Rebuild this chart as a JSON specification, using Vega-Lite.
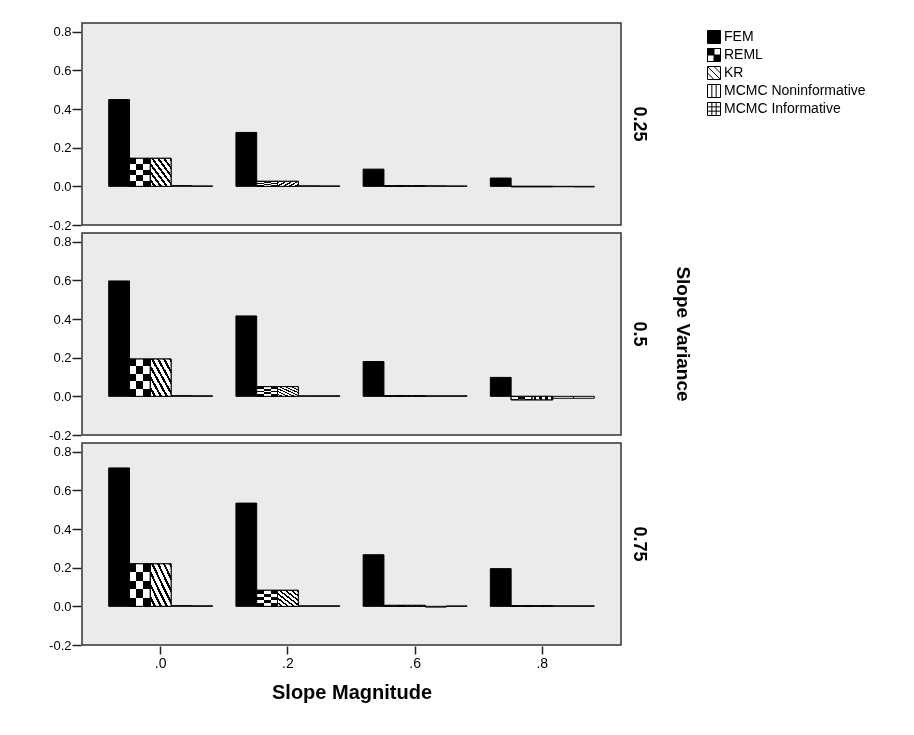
{
  "$schema": "https://vega.github.io/schema/vega-lite/v6.json",
  "background": "white",
  "padding": {"left": 48, "top": 22, "right": 5, "bottom": 5},
  "autosize": {"type": "pad"},
  "config": {
    "font": "Liberation Sans",
    "view": {"fill": "#ebebeb", "stroke": "#333333", "strokeWidth": 1.5}
  },
  "data": {
    "values": [
      {"variance": "0.25", "magnitude": ".0", "method": "FEM", "value": 0.449},
      {"variance": "0.25", "magnitude": ".0", "method": "REML", "value": 0.145},
      {"variance": "0.25", "magnitude": ".0", "method": "KR", "value": 0.145},
      {"variance": "0.25", "magnitude": ".0", "method": "MCMC Noninformative", "value": 0.004},
      {"variance": "0.25", "magnitude": ".0", "method": "MCMC Informative", "value": 0.002},
      {"variance": "0.25", "magnitude": ".2", "method": "FEM", "value": 0.279},
      {"variance": "0.25", "magnitude": ".2", "method": "REML", "value": 0.026},
      {"variance": "0.25", "magnitude": ".2", "method": "KR", "value": 0.026},
      {"variance": "0.25", "magnitude": ".2", "method": "MCMC Noninformative", "value": 0.003},
      {"variance": "0.25", "magnitude": ".2", "method": "MCMC Informative", "value": 0.002},
      {"variance": "0.25", "magnitude": ".6", "method": "FEM", "value": 0.089},
      {"variance": "0.25", "magnitude": ".6", "method": "REML", "value": 0.003},
      {"variance": "0.25", "magnitude": ".6", "method": "KR", "value": 0.003},
      {"variance": "0.25", "magnitude": ".6", "method": "MCMC Noninformative", "value": 0.003},
      {"variance": "0.25", "magnitude": ".6", "method": "MCMC Informative", "value": 0.002},
      {"variance": "0.25", "magnitude": ".8", "method": "FEM", "value": 0.043},
      {"variance": "0.25", "magnitude": ".8", "method": "REML", "value": -0.002},
      {"variance": "0.25", "magnitude": ".8", "method": "KR", "value": -0.002},
      {"variance": "0.25", "magnitude": ".8", "method": "MCMC Noninformative", "value": -0.002},
      {"variance": "0.25", "magnitude": ".8", "method": "MCMC Informative", "value": -0.003},
      {"variance": "0.5", "magnitude": ".0", "method": "FEM", "value": 0.597},
      {"variance": "0.5", "magnitude": ".0", "method": "REML", "value": 0.193},
      {"variance": "0.5", "magnitude": ".0", "method": "KR", "value": 0.193},
      {"variance": "0.5", "magnitude": ".0", "method": "MCMC Noninformative", "value": 0.004},
      {"variance": "0.5", "magnitude": ".0", "method": "MCMC Informative", "value": 0.003},
      {"variance": "0.5", "magnitude": ".2", "method": "FEM", "value": 0.416},
      {"variance": "0.5", "magnitude": ".2", "method": "REML", "value": 0.05},
      {"variance": "0.5", "magnitude": ".2", "method": "KR", "value": 0.05},
      {"variance": "0.5", "magnitude": ".2", "method": "MCMC Noninformative", "value": 0.003},
      {"variance": "0.5", "magnitude": ".2", "method": "MCMC Informative", "value": 0.003},
      {"variance": "0.5", "magnitude": ".6", "method": "FEM", "value": 0.18},
      {"variance": "0.5", "magnitude": ".6", "method": "REML", "value": 0.003},
      {"variance": "0.5", "magnitude": ".6", "method": "KR", "value": 0.003},
      {"variance": "0.5", "magnitude": ".6", "method": "MCMC Noninformative", "value": 0.003},
      {"variance": "0.5", "magnitude": ".6", "method": "MCMC Informative", "value": 0.003},
      {"variance": "0.5", "magnitude": ".8", "method": "FEM", "value": 0.098},
      {"variance": "0.5", "magnitude": ".8", "method": "REML", "value": -0.018},
      {"variance": "0.5", "magnitude": ".8", "method": "KR", "value": -0.018},
      {"variance": "0.5", "magnitude": ".8", "method": "MCMC Noninformative", "value": -0.01},
      {"variance": "0.5", "magnitude": ".8", "method": "MCMC Informative", "value": -0.01},
      {"variance": "0.75", "magnitude": ".0", "method": "FEM", "value": 0.716},
      {"variance": "0.75", "magnitude": ".0", "method": "REML", "value": 0.22},
      {"variance": "0.75", "magnitude": ".0", "method": "KR", "value": 0.22},
      {"variance": "0.75", "magnitude": ".0", "method": "MCMC Noninformative", "value": 0.004},
      {"variance": "0.75", "magnitude": ".0", "method": "MCMC Informative", "value": 0.003},
      {"variance": "0.75", "magnitude": ".2", "method": "FEM", "value": 0.534},
      {"variance": "0.75", "magnitude": ".2", "method": "REML", "value": 0.083},
      {"variance": "0.75", "magnitude": ".2", "method": "KR", "value": 0.083},
      {"variance": "0.75", "magnitude": ".2", "method": "MCMC Noninformative", "value": 0.003},
      {"variance": "0.75", "magnitude": ".2", "method": "MCMC Informative", "value": 0.003},
      {"variance": "0.75", "magnitude": ".6", "method": "FEM", "value": 0.267},
      {"variance": "0.75", "magnitude": ".6", "method": "REML", "value": 0.005},
      {"variance": "0.75", "magnitude": ".6", "method": "KR", "value": 0.005},
      {"variance": "0.75", "magnitude": ".6", "method": "MCMC Noninformative", "value": -0.004},
      {"variance": "0.75", "magnitude": ".6", "method": "MCMC Informative", "value": 0.002},
      {"variance": "0.75", "magnitude": ".8", "method": "FEM", "value": 0.195},
      {"variance": "0.75", "magnitude": ".8", "method": "REML", "value": 0.003},
      {"variance": "0.75", "magnitude": ".8", "method": "KR", "value": 0.003},
      {"variance": "0.75", "magnitude": ".8", "method": "MCMC Noninformative", "value": 0.003},
      {"variance": "0.75", "magnitude": ".8", "method": "MCMC Informative", "value": 0.003}
    ]
  },
  "spacing": 6,
  "facet": {
    "row": {
      "field": "variance",
      "type": "ordinal",
      "sort": ["0.25", "0.5", "0.75"],
      "title": "Slope Variance",
      "header": {
        "labelOrient": "right",
        "labelAngle": 90,
        "labelFontSize": 18,
        "labelFontWeight": "bold",
        "labelColor": "black",
        "labelPadding": 8,
        "titleOrient": "right",
        "titleAngle": 90,
        "titleFontSize": 19,
        "titleFontWeight": "bold",
        "titleColor": "black",
        "titlePadding": 15
      }
    }
  },
  "spec": {
    "width": 539,
    "height": 202,
    "encoding": {
      "x": {
        "field": "magnitude",
        "type": "nominal",
        "sort": [".0", ".2", ".6", ".8"],
        "scale": {"paddingInner": 0.183, "paddingOuter": 0.21},
        "axis": {
          "title": "Slope Magnitude",
          "labelAngle": 0,
          "domain": false,
          "tickSize": 8,
          "tickColor": "#222222",
          "tickWidth": 1.5,
          "labelFontSize": 14,
          "labelColor": "black",
          "labelPadding": 2,
          "titleFontSize": 20,
          "titleFontWeight": "bold",
          "titleColor": "black",
          "titlePadding": 12
        }
      },
      "xOffset": {
        "field": "method",
        "type": "nominal",
        "scale": {"domain": ["FEM", "REML", "KR", "MCMC Noninformative", "MCMC Informative"], "paddingInner": 0, "paddingOuter": 0}
      },
      "y": {
        "field": "value",
        "type": "quantitative",
        "scale": {"domain": [-0.2, 0.845], "nice": false, "zero": false},
        "axis": {
          "title": null,
          "values": [-0.2, 0, 0.2, 0.4, 0.6, 0.8],
          "labelExpr": "datum.value < 0 ? '-' + format(-datum.value, '.1f') : format(datum.value, '.1f')",
          "grid": false,
          "domain": false,
          "tickSize": 9,
          "tickColor": "#222222",
          "tickWidth": 1.5,
          "labelFontSize": 13,
          "labelColor": "black",
          "labelPadding": 1
        }
      }
    },
    "layer": [
      {
        "mark": {"type": "bar", "stroke": "black", "strokeWidth": 1},
        "encoding": {
          "fill": {
            "field": "method",
            "type": "nominal",
            "scale": {"domain": ["FEM", "REML", "KR", "MCMC Noninformative", "MCMC Informative"], "range": ["black", "black", "white", "white", "white"]},
            "legend": {
              "title": null,
              "orient": "right",
              "offset": 8,
              "padding": 7,
              "labelFontSize": 14,
              "labelColor": "black",
              "labelOffset": 3,
              "symbolSize": 169,
              "rowPadding": 0,
              "symbolStrokeWidth": 1,
              "symbolStrokeColor": "black",
              "encode": {
                "symbols": {
                  "update": {
                    "shape": [
                      {"test": "datum.value === 'REML'", "value": "M-1,-1H1V1H-1Z M0,-1V0H1V-1Z M-1,0V1H0V0Z"},
                      {"test": "datum.value === 'KR'", "value": "M-1,-1H1V1H-1Z M-1,-1L1,1 M-1,0L0,1 M0,-1L1,0"},
                      {"test": "datum.value === 'MCMC Noninformative'", "value": "M-1,-1H1V1H-1Z M-0.33,-1V1 M0.33,-1V1"},
                      {"test": "datum.value === 'MCMC Informative'", "value": "M-1,-1H1V1H-1Z M-0.33,-1V1 M0.33,-1V1 M-1,-0.33H1 M-1,0.33H1"},
                      {"value": "M-1,-1H1V1H-1Z"}
                    ],
                    "stroke": {"value": "black"},
                    "strokeWidth": {"value": 1}
                  }
                }
              }
            }
          }
        }
      },
      {
        "transform": [{"filter": "datum.method === 'REML'"}],
        "mark": {
          "type": "bar",
          "strokeWidth": 0,
          "fill": {
            "gradient": "linear", "x1": 0, "y1": 0, "x2": 0, "y2": 1,
            "stops": [
              {"offset": 0, "color": "black"}, {"offset": 0.2, "color": "black"},
              {"offset": 0.2, "color": "white"}, {"offset": 0.4, "color": "white"},
              {"offset": 0.4, "color": "black"}, {"offset": 0.6, "color": "black"},
              {"offset": 0.6, "color": "white"}, {"offset": 0.8, "color": "white"},
              {"offset": 0.8, "color": "black"}, {"offset": 1, "color": "black"}
            ]
          }
        }
      },
      {
        "transform": [{"filter": "datum.method === 'REML'"}],
        "mark": {
          "type": "bar",
          "strokeWidth": 0,
          "blend": "difference",
          "fill": {
            "gradient": "linear", "x1": 0, "y1": 0, "x2": 1, "y2": 0,
            "stops": [
              {"offset": 0, "color": "black"}, {"offset": 0.333, "color": "black"},
              {"offset": 0.333, "color": "white"}, {"offset": 0.667, "color": "white"},
              {"offset": 0.667, "color": "black"}, {"offset": 1, "color": "black"}
            ]
          }
        }
      },
      {
        "transform": [{"filter": "datum.method === 'KR'"}],
        "mark": {
          "type": "bar",
          "strokeWidth": 0,
          "fill": {
            "gradient": "linear", "x1": 0, "y1": 1, "x2": 1, "y2": 0,
            "stops": [
              {"offset": 0, "color": "white"}, {"offset": 0.0857, "color": "white"},
              {"offset": 0.0857, "color": "black"}, {"offset": 0.1429, "color": "black"},
              {"offset": 0.1429, "color": "white"}, {"offset": 0.2286, "color": "white"},
              {"offset": 0.2286, "color": "black"}, {"offset": 0.2857, "color": "black"},
              {"offset": 0.2857, "color": "white"}, {"offset": 0.3714, "color": "white"},
              {"offset": 0.3714, "color": "black"}, {"offset": 0.4286, "color": "black"},
              {"offset": 0.4286, "color": "white"}, {"offset": 0.5143, "color": "white"},
              {"offset": 0.5143, "color": "black"}, {"offset": 0.5714, "color": "black"},
              {"offset": 0.5714, "color": "white"}, {"offset": 0.6571, "color": "white"},
              {"offset": 0.6571, "color": "black"}, {"offset": 0.7143, "color": "black"},
              {"offset": 0.7143, "color": "white"}, {"offset": 0.8, "color": "white"},
              {"offset": 0.8, "color": "black"}, {"offset": 0.8571, "color": "black"},
              {"offset": 0.8571, "color": "white"}, {"offset": 0.9429, "color": "white"},
              {"offset": 0.9429, "color": "black"}, {"offset": 1, "color": "black"}
            ]
          }
        }
      },
      {
        "transform": [{"filter": "datum.method === 'REML' || datum.method === 'KR'"}],
        "mark": {"type": "bar", "fillOpacity": 0, "stroke": "black", "strokeWidth": 1}
      }
    ]
  }
}
